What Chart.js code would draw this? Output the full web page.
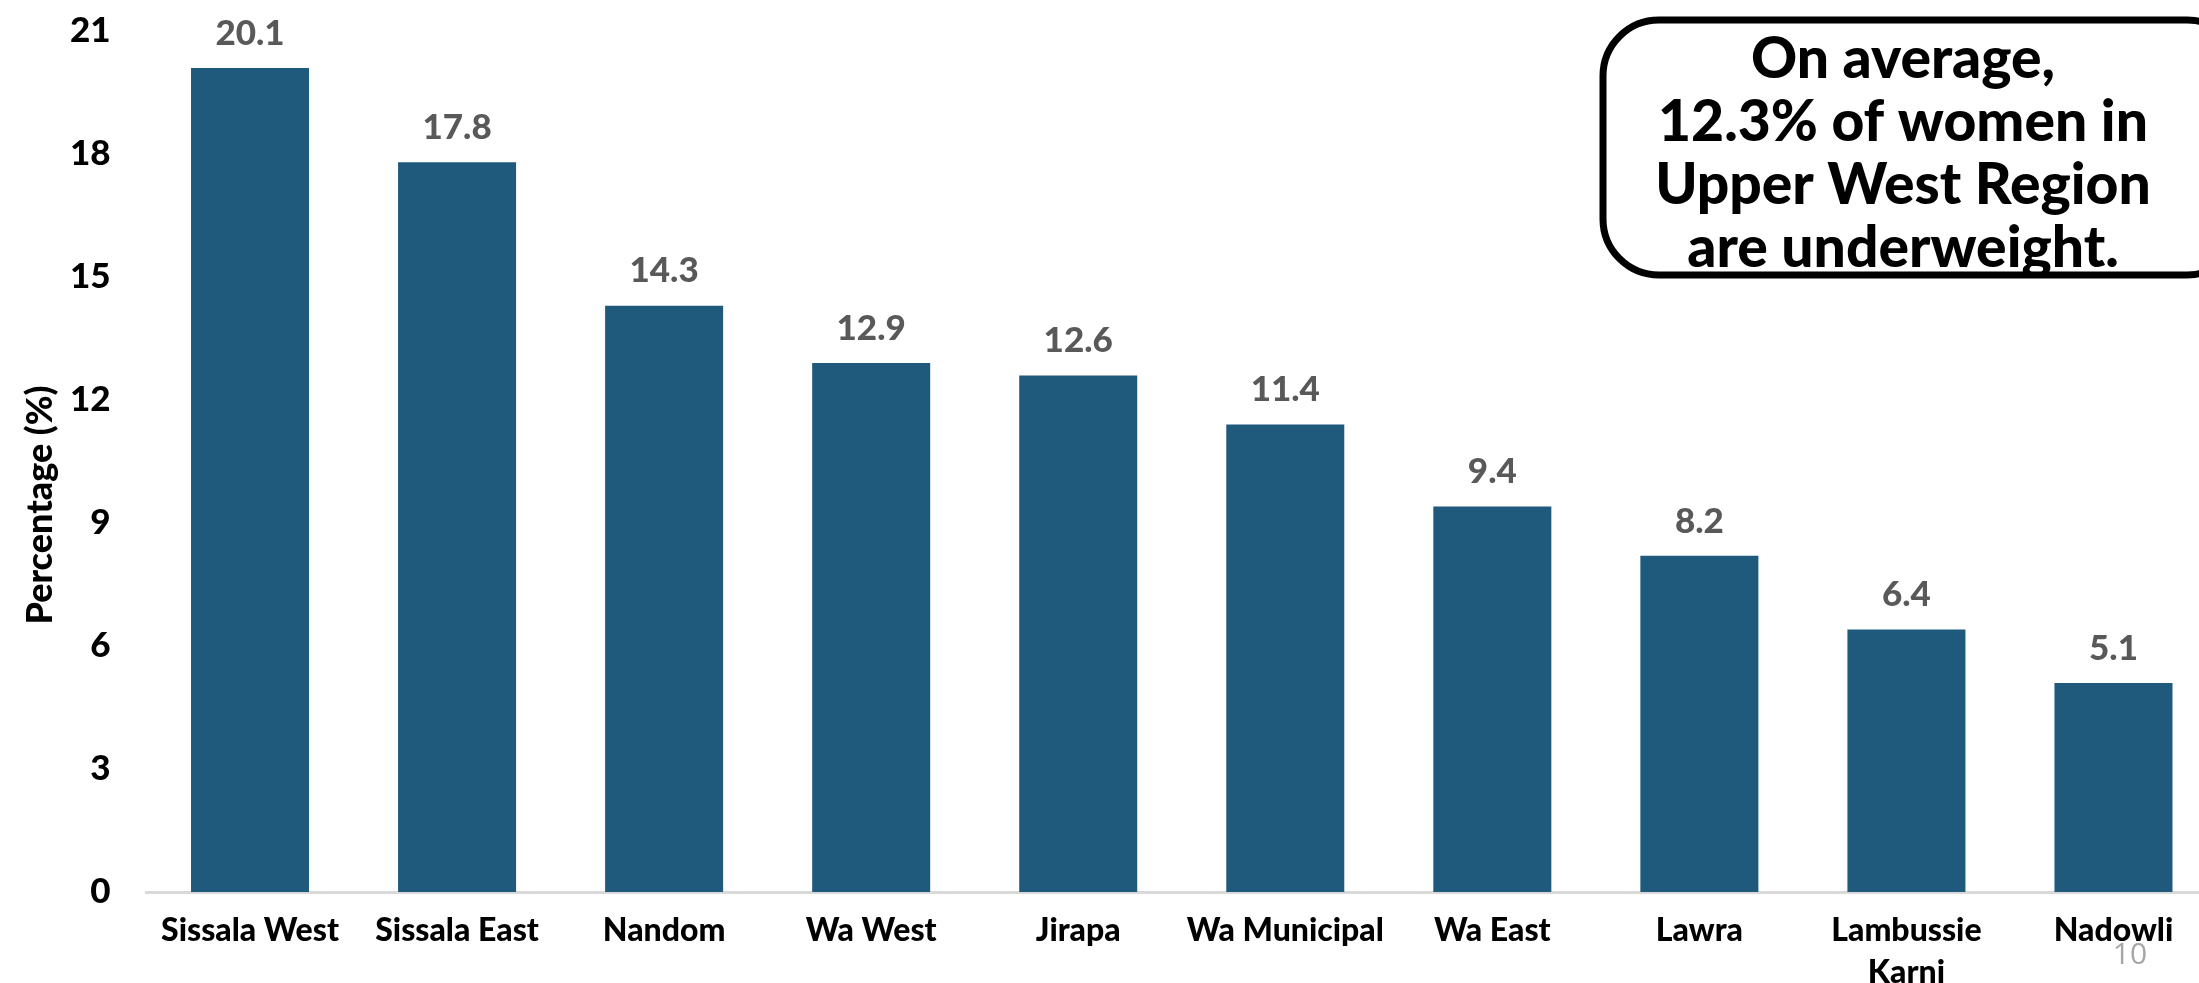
<!DOCTYPE html>
<html>
<head>
<meta charset="utf-8">
<script src="https://cdn.jsdelivr.net/npm/chart.js@4.4.0/dist/chart.umd.min.js"></script>
<style>
    html, body { margin: 0; padding: 0; overflow: hidden; background: #ffffff; }
    #wrap { width: 2199px; height: 983px; overflow: hidden; }
</style>
</head>
<body>
<div id="wrap">
    <canvas id="bars" width="2217" height="983"></canvas>
</div>
<script>
// districts, left to right
var districts = ['Sissala West', 'Sissala East', 'Nandom', 'Wa West', 'Jirapa',
    'Wa Municipal', 'Wa East', 'Lawra', ['Lambussie', 'Karni'], 'Nadowli'];
var underweightPct = [20.1, 17.8, 14.3, 12.9, 12.6, 11.4, 9.4, 8.2, 6.4, 5.1];
var yTicks = [0, 3, 6, 9, 12, 15, 18, 21];
var yTitle = 'Percentage (%)';
var calloutLines = ['On average,', '12.3% of women in', 'Upper West Region', 'are underweight.'];
var pageNumber = '10';

var FONT = 'Lato, "Open Sans", sans-serif';

// value labels above bars + text pieces that sit outside the axes
var extrasPlugin = {
    id: 'extras',
    afterDatasetsDraw: function (chart) {
        var ctx = chart.ctx;
        var meta = chart.getDatasetMeta(0);
        ctx.save();
        ctx.fillStyle = '#595959';
        ctx.font = '900 35px ' + FONT;
        ctx.textAlign = 'center';
        ctx.textBaseline = 'bottom';
        for (var i = 0; i < meta.data.length; i++) {
            var bar = meta.data[i];
            ctx.fillText(underweightPct[i].toFixed(1), bar.x, bar.y - 17);
        }
        ctx.restore();
    },
    afterDraw: function (chart) {
        var ctx = chart.ctx;
        ctx.save();

        // y axis title
        ctx.translate(40, 505);
        ctx.rotate(-Math.PI / 2);
        ctx.fillStyle = '#000000';
        ctx.font = '900 36px ' + FONT;
        ctx.textAlign = 'center';
        ctx.textBaseline = 'middle';
        ctx.fillText(yTitle, 0, 0);
        ctx.setTransform(1, 0, 0, 1, 0, 0);

        // callout box (right side runs off the slide)
        ctx.beginPath();
        ctx.roundRect(1603, 20, 640, 255, 56);
        ctx.fillStyle = '#ffffff';
        ctx.fill();
        ctx.lineWidth = 7;
        ctx.strokeStyle = '#000000';
        ctx.stroke();

        ctx.fillStyle = '#000000';
        ctx.font = '900 57px ' + FONT;
        ctx.textAlign = 'center';
        ctx.textBaseline = 'middle';
        for (var i = 0; i < calloutLines.length; i++) {
            ctx.fillText(calloutLines[i], 1903, 60 + i * 63);
        }

        // slide number
        ctx.fillStyle = '#a6a6a6';
        ctx.font = '30px "Open Sans", sans-serif';
        ctx.fillText(pageNumber, 2130, 955);
        ctx.restore();
    }
};

var chart = new Chart(document.getElementById('bars'), {
    type: 'bar',
    data: {
        labels: districts,
        datasets: [{
            label: yTitle,
            data: underweightPct,
            backgroundColor: '#1F597C',
            borderWidth: 0,
            categoryPercentage: 1,
            barPercentage: 0.57
        }]
    },
    options: {
        responsive: false,
        animation: false,
        layout: { padding: { top: 31, right: 0, bottom: 0, left: 0 } },
        plugins: {
            legend: { display: false },
            tooltip: { enabled: false }
        },
        scales: {
            x: {
                offset: true,
                grid: { display: false, drawTicks: false },
                border: { display: true, color: '#d9d9d9', width: 3 },
                ticks: {
                    color: '#000000',
                    padding: 18,
                    maxRotation: 0,
                    autoSkip: false,
                    font: { family: FONT, size: 32, weight: '900', lineHeight: 1.3 }
                },
                afterFit: function (scale) { scale.height = 91; }
            },
            y: {
                min: 0,
                max: 21,
                afterBuildTicks: function (scale) {
                    scale.ticks = yTicks.map(function (v) { return { value: v }; });
                },
                grid: { display: false, drawTicks: false },
                border: { display: false },
                ticks: {
                    color: '#000000',
                    padding: 36,
                    font: { family: FONT, size: 35, weight: '900' }
                },
                afterFit: function (scale) {
                    // tick padding would otherwise push the plot top down
                    scale.width = 146.5;
                    scale.paddingTop = 0;
                    scale.paddingBottom = 0;
                }
            }
        }
    },
    plugins: [extrasPlugin]
});
</script>
</body>
</html>
